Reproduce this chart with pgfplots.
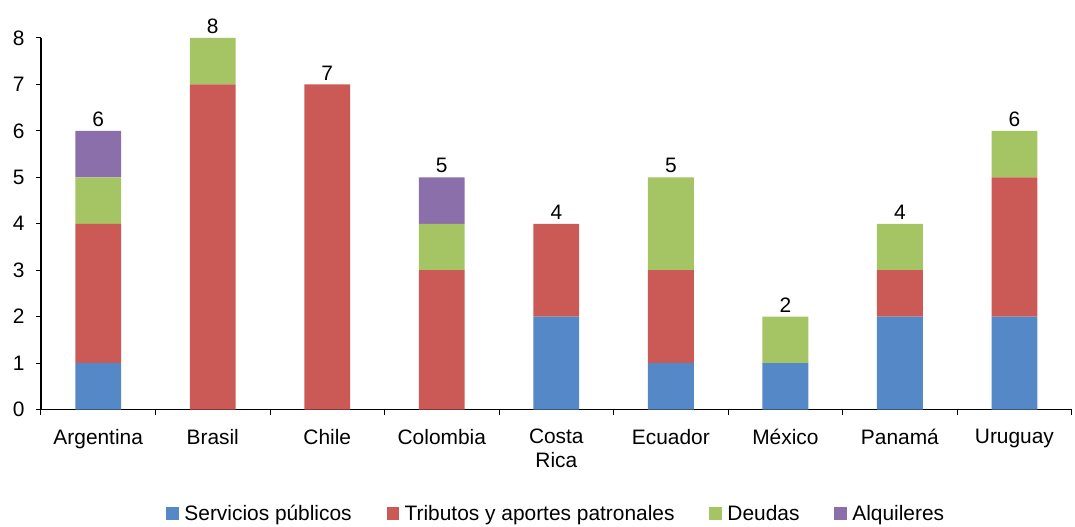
\documentclass[border=0pt]{standalone}
\usepackage{pgfplots}
\pgfplotsset{compat=1.18}
\usepackage{fontspec}
\setmainfont{Liberation Sans}
\definecolor{cS}{RGB}{84,136,198}
\definecolor{cT}{RGB}{203,89,86}
\definecolor{cD}{RGB}{165,196,99}
\definecolor{cA}{RGB}{139,111,170}
\newcommand{\lf}{\fontsize{21}{24}\selectfont}
\pgfplotsset{leg/.style={legend image code/.code={\fill[##1,draw=none] (0bp,-6bp) rectangle (12.5bp,7bp);}}}
\begin{document}
\begin{tikzpicture}
\path (-41bp,-115bp) rectangle (1034bp,410bp);
\begin{axis}[
  at={(0,0)}, anchor=south west,
  scale only axis, width=1032bp, height=372bp,
  ybar stacked, bar width=0.4,
  xmin=-0.5, xmax=8.5, ymin=0, ymax=8,
  axis x line*=bottom, axis y line*=left,
  axis line style={line width=1.2bp, black, -},
  tick align=outside,
  major tick length=5bp,
  tick style={black, line width=1bp},
  xtick={-0.5,0.5,...,8.5}, xticklabels={},
  extra x ticks={0,1,2,3,4,5,6,7,8},
  extra x tick labels={Argentina,Brasil,Chile,Colombia,{Costa\\Rica},Ecuador,México,Panamá,Uruguay},
  extra x tick style={major tick length=0pt, tick style={draw=none}},
  xticklabel style={align=center, font=\lf, yshift=-16bp},
  ytick={0,1,...,8},
  yticklabel style={font=\lf, xshift=-8bp},
  /pgf/number format/assume math mode=true,
  legend style={at={(0.5,-0.28)}, anchor=center, draw=none, fill=none,
    legend columns=4, font=\lf,
    /tikz/every odd column/.style={column sep=3.5bp},
    /tikz/every even column/.style={column sep=33bp}},
]
\addplot[fill=cS, draw=none, leg] coordinates {(0,1) (1,0) (2,0) (3,0) (4,2) (5,1) (6,1) (7,2) (8,2)};
\addlegendentry{Servicios públicos}
\addplot[fill=cT, draw=none, leg] coordinates {(0,3) (1,7) (2,7) (3,3) (4,2) (5,2) (6,0) (7,1) (8,3)};
\addlegendentry{Tributos y aportes patronales}
\addplot[fill=cD, draw=none, leg] coordinates {(0,1) (1,1) (2,0) (3,1) (4,0) (5,2) (6,1) (7,1) (8,1)};
\addlegendentry{Deudas}
\addplot[fill=cA, draw=none, leg] coordinates {(0,1) (1,0) (2,0) (3,1) (4,0) (5,0) (6,0) (7,0) (8,0)};
\addlegendentry{Alquileres}
\end{axis}
\begin{axis}[
  at={(0,0)}, anchor=south west,
  scale only axis, width=1032bp, height=372bp,
  xmin=-0.5, xmax=8.5, ymin=0, ymax=8,
  hide axis, clip=false,
  /pgf/number format/assume math mode=true,
]
\addplot[draw=none, mark=none, nodes near coords, point meta=y,
  every node near coord/.style={font=\lf, anchor=south, inner sep=2bp, yshift=2bp, black}]
  coordinates {(0,6) (1,8) (2,7) (3,5) (4,4) (5,5) (6,2) (7,4) (8,6)};
\end{axis}
\end{tikzpicture}
\end{document}
